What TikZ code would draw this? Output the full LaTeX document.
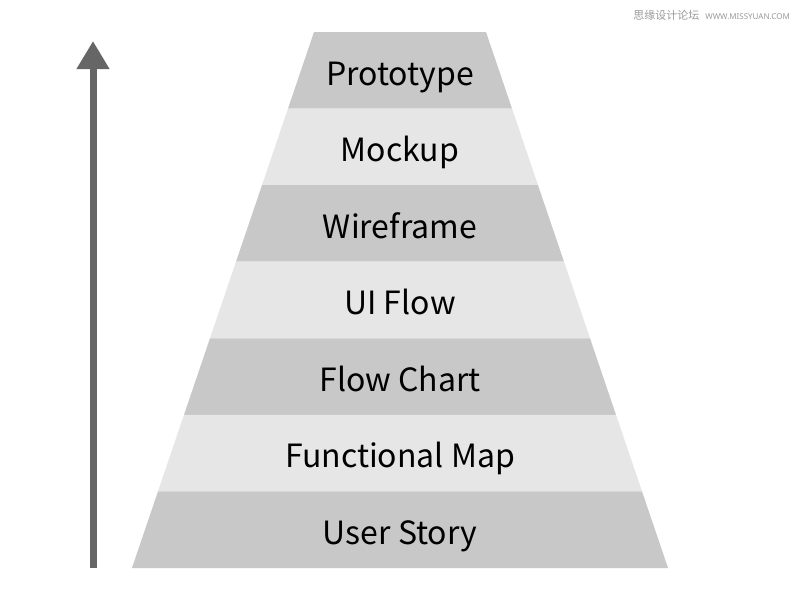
\documentclass[tikz,border=0pt]{standalone}
\usepackage{fontspec}
\setmainfont{Noto Sans}
\newfontfamily\cjk{Noto Sans CJK SC}
\usepackage{xcolor}
\definecolor{cBandDark}{HTML}{C8C8C8}
\definecolor{cBandLight}{HTML}{E6E6E6}
\definecolor{cArrow}{HTML}{666666}
\definecolor{cMark}{HTML}{9A9A9A}
\usepackage{tikz}
\usetikzlibrary{arrows.meta,calc}
\tikzset{
  band-dark/.style={fill=cBandDark,draw=none},
  band-light/.style={fill=cBandLight,draw=none},
  band-label/.style={font=\cjk\fontsize{32}{38}\selectfont,text=black,inner sep=0pt},
  arrow-up/.style={-{Triangle[length=28pt,width=31pt]},line width=7pt,draw=cArrow},
  watermark/.style={font=\fontsize{11}{13}\selectfont,text=cMark,inner sep=0pt},
}

\begin{document}
\begin{tikzpicture}[x=1pt,y=-1pt]
  % canvas
  \fill[white] (0,0) rectangle (800,600);
  % pyramid bands, top to bottom
  \foreach \i/\txt/\st in {0/Prototype/band-dark,1/Mockup/band-light,
      2/Wireframe/band-dark,3/UI Flow/band-light,4/Flow Chart/band-dark,
      5/Functional Map/band-light,6/User Story/band-dark}{
    \pgfmathsetmacro{\ya}{32+\i*76.57}
    \pgfmathsetmacro{\yb}{\ya+76.57}
    \pgfmathsetmacro{\xa}{314-0.3396*(\ya-32)}
    \pgfmathsetmacro{\xb}{314-0.3396*(\yb-32)}
    \fill[\st] (\xa,\ya) -- (800-\xa,\ya) -- (800-\xb,\yb) -- (\xb,\yb) -- cycle;
    \node[band-label,anchor=base] (band\i) at (400,{\ya+53}) {\txt};
  }
  % arrow
  \coordinate (arrow-foot) at (93,568);
  \coordinate (arrow-tip) at (93,41);
  \draw[arrow-up] (arrow-foot) -- (arrow-tip);
  % watermark
  \node[watermark,anchor=east] (mark) at (790,15)
    {{\cjk 思缘设计论坛}\hspace{6pt}{\fontsize{8}{10}\selectfont WWW.MISSYUAN.COM}};
\end{tikzpicture}
\end{document}
